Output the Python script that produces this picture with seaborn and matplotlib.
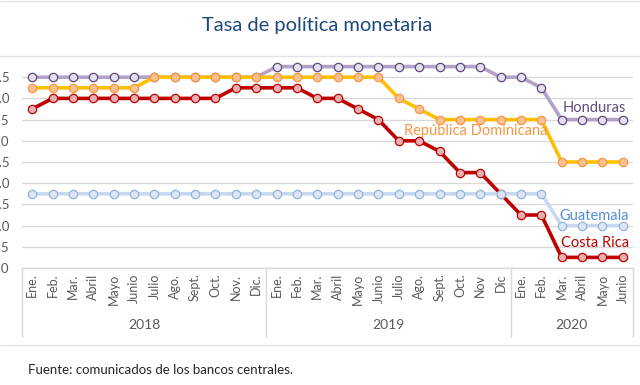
import pandas as pd
import matplotlib.pyplot as plt
import matplotlib.transforms as mtransforms
from matplotlib.lines import Line2D
import seaborn as sns

# Data (percent), Jan 2018 - Jun 2020
months = ["Ene.", "Feb.", "Mar.", "Abril", "Mayo", "Junio", "Julio", "Ago.", "Sept.", "Oct.", "Nov.", "Dic.",
          "Ene.", "Feb.", "Mar.", "Abril", "Mayo", "Junio", "Julio", "Ago.", "Sept.", "Oct.", "Nov", "Dic",
          "Ene.", "Feb.", "Mar.", "Abril", "Mayo", "Junio"]
years = ["2018", "2019", "2020"]
year_counts = [12, 12, 6]

honduras = [5.5] * 12 + [5.75] * 11 + [5.5, 5.5, 5.25, 4.5, 4.5, 4.5, 4.5]
rep_dom = [5.25] * 6 + [5.5] * 12 + [5.0, 4.75, 4.5, 4.5, 4.5, 4.5, 4.5, 4.5, 3.5, 3.5, 3.5, 3.5]
costa_rica = [4.75] + [5.0] * 9 + [5.25] * 4 + [5.0, 5.0, 4.75, 4.5, 4.0, 4.0, 3.75, 3.25, 3.25, 2.75,
                                                2.25, 2.25, 1.25, 1.25, 1.25, 1.25]
guatemala = [2.75] * 26 + [2.0] * 4

series = [
    ("Honduras", honduras, "#b3a2c7", "#e4dfec", "#5f497a", "#604a7b"),
    ("República Dominicana", rep_dom, "#ffc000", "#fac090", "#f79646", "#f79646"),
    ("Costa Rica", costa_rica, "#c00000", "#e6b0b0", "#c00000", "#c00000"),
    ("Guatemala", guatemala, "#c6d9f1", "#dce6f2", "#95b3d7", "#558ed5"),
]
label_pos = {"Honduras": (27.6, 4.77), "República Dominicana": (21.8, 4.23),
             "Guatemala": (27.6, 2.23), "Costa Rica": (27.65, 1.59)}

sns.set_style("white")
plt.rcParams["font.family"] = ["Lato", "DejaVu Sans"]

fig = plt.figure(figsize=(6.4, 3.85), dpi=100)
ax = fig.add_axes([22 / 640, 117 / 385, 611 / 640, 212 / 385])

x = list(range(len(months)))
for name, vals, lc, mfc, mec, tc in series:
    df = pd.DataFrame({"x": x, "y": vals})
    sns.lineplot(data=df, x="x", y="y", ax=ax, color=lc, linewidth=2.6,
                 marker="o", markersize=6, markerfacecolor=mfc, markeredgecolor=mec,
                 markeredgewidth=0.9)
    lx, ly = label_pos[name]
    ax.text(lx, ly, name, color=tc, fontsize=10.5, ha="center", va="center")

ax.set_xlim(-0.5, len(months) - 0.5)
ax.set_ylim(1.0, 6.0)
yt = [1.0 + 0.5 * i for i in range(10)]
ax.set_yticks(yt)
ax.set_yticklabels([f"{v:.1f}" for v in yt], color="#595959", fontsize=9.5)
ax.set_xticks(x)
ax.set_xticklabels(months, rotation=90, color="#595959", fontsize=9, va="top")
ax.tick_params(axis="both", length=0)
ax.tick_params(axis="y", pad=9)
ax.tick_params(axis="x", pad=4)
ax.set_xlabel("")
ax.set_ylabel("")
ax.grid(axis="y", color="#d9d9d9", linewidth=1)
ax.grid(axis="x", visible=False)
for s in ["top", "right", "left"]:
    ax.spines[s].set_visible(False)
ax.spines["bottom"].set_color("#d9d9d9")
ax.spines["bottom"].set_linewidth(1)

# year groups on the category axis
trans = mtransforms.blended_transform_factory(ax.transData, ax.transAxes)
start = -0.5
bounds = [start]
for yr, n in zip(years, year_counts):
    ax.text(start + n / 2, -0.27, yr, transform=trans, ha="center", va="center",
            color="#595959", fontsize=10)
    start += n
    bounds.append(start)
for b in bounds:
    ax.add_line(Line2D([b, b], [0, -0.325], transform=trans, color="#d9d9d9",
                       linewidth=1, clip_on=False))

fig.text(0.495, 1 - 25 / 385, "Tasa de política monetaria", ha="center", va="center",
         color="#1f497d", fontsize=14.5)
fig.text(28 / 640, 1 - 370 / 385, "Fuente: comunicados de los bancos centrales.",
         ha="left", va="center", color="#262626", fontsize=9.5)
for yy in [1, 56, 345]:
    fig.add_artist(Line2D([0, 1], [1 - yy / 385, 1 - yy / 385], transform=fig.transFigure,
                          color="#e3e3e3", linewidth=1))

fig.savefig("out.png", dpi=100)
